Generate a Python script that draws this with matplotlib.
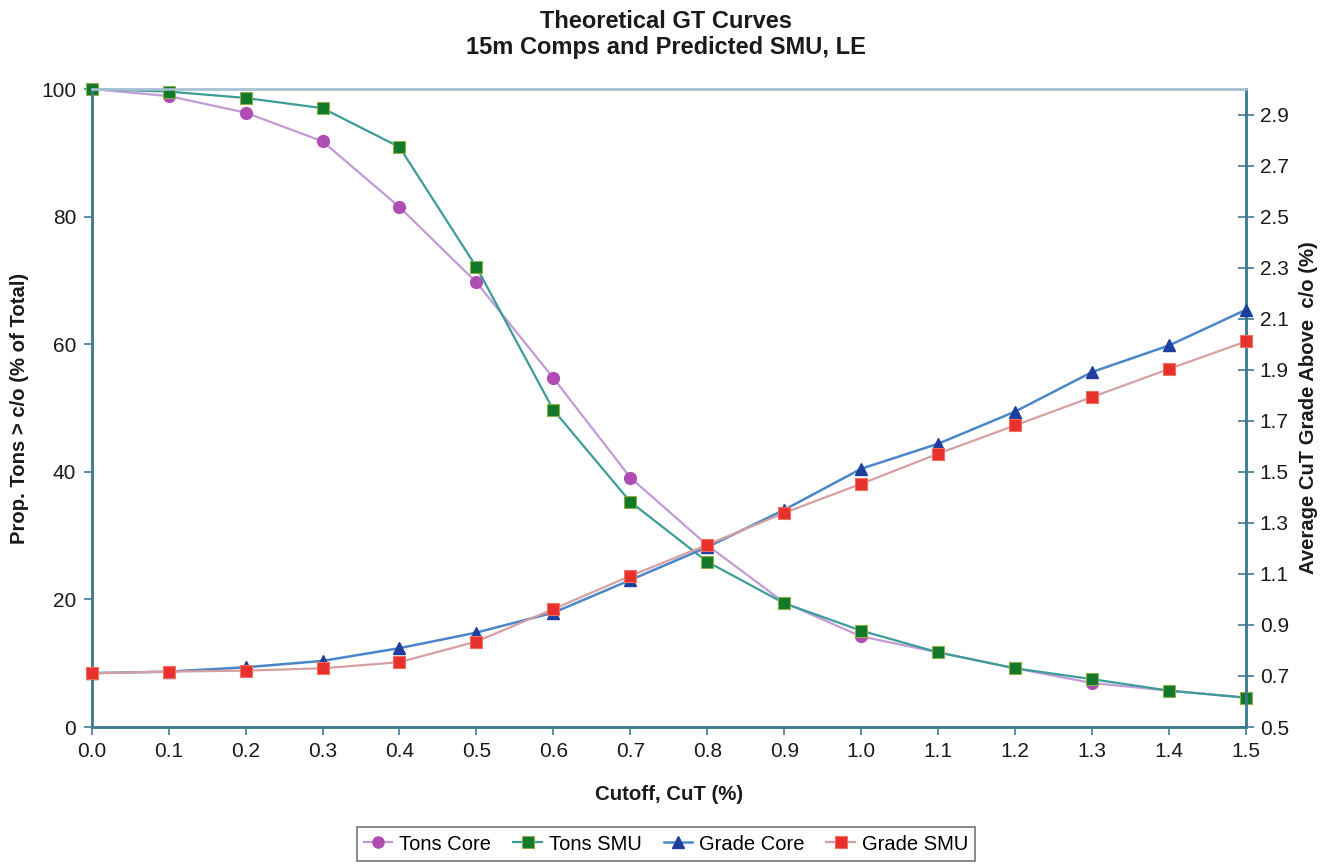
import matplotlib
matplotlib.use("Agg")
import matplotlib.pyplot as plt
from matplotlib.lines import Line2D

plt.rcParams['font.family'] = ['Liberation Sans', 'DejaVu Sans']

cutoff = [0.0, 0.1, 0.2, 0.3, 0.4, 0.5, 0.6, 0.7, 0.8, 0.9, 1.0, 1.1, 1.2, 1.3, 1.4, 1.5]

tons_core = [100.0, 98.9, 96.3, 91.8, 81.5, 69.7, 54.7, 39.1, 28.5, 19.5, 14.2, 11.7, 9.2, 6.9, 5.7, 4.6]
tons_smu = [100.0, 99.6, 98.6, 97.0, 90.9, 72.1, 49.7, 35.3, 25.9, 19.4, 15.1, 11.7, 9.2, 7.5, 5.7, 4.6]

grade_core = [0.711, 0.717, 0.734, 0.759, 0.809, 0.870, 0.948, 1.076, 1.205, 1.351, 1.512, 1.610, 1.736, 1.891, 1.995, 2.135]
grade_smu = [0.711, 0.717, 0.721, 0.730, 0.754, 0.835, 0.962, 1.092, 1.214, 1.339, 1.453, 1.571, 1.682, 1.793, 1.903, 2.011]

x_ticks = [0.0, 0.1, 0.2, 0.3, 0.4, 0.5, 0.6, 0.7, 0.8, 0.9, 1.0, 1.1, 1.2, 1.3, 1.4, 1.5]
left_ticks = [0, 20, 40, 60, 80, 100]
right_ticks = [0.5, 0.7, 0.9, 1.1, 1.3, 1.5, 1.7, 1.9, 2.1, 2.3, 2.5, 2.7, 2.9]

spine_dark = '#3f7a92'
spine_light = '#a9c3d4'
text_col = '#1a1a1a'

styles = {
    'Tons Core': dict(color='#c39ad8', lw=1.6, marker='o', mfc='#b04db4', mec='#b04db4'),
    'Tons SMU': dict(color='#3c9c98', lw=1.6, marker='s', mfc='#12782a', mec='#8fae4a', mew=0.8),
    'Grade Core': dict(color='#4a86c8', lw=1.8, marker='^', mfc='#1f3f9e', mec='#1f3f9e'),
    'Grade SMU': dict(color='#d7a0a0', lw=1.6, marker='s', mfc='#e8302c', mec='#f07060', mew=0.8),
}

fig = plt.figure(figsize=(13.32, 8.66), dpi=100)
ax = fig.add_axes([0.0688, 0.1605, 0.8666, 0.7367])
ax2 = ax.twinx()

# tonnage curves on the left axis
ax.plot(cutoff, tons_core, ms=8.5, clip_on=False, zorder=3, **styles['Tons Core'])
ax.plot(cutoff, tons_smu, ms=8.5, clip_on=False, zorder=4, **styles['Tons SMU'])

# grade curves on the right axis
ax2.plot(cutoff, grade_core, ms=9, clip_on=False, zorder=3, **styles['Grade Core'])
ax2.plot(cutoff, grade_smu, ms=8.5, clip_on=False, zorder=4, **styles['Grade SMU'])

ax.set_xlim(0, 1.5)
ax.set_ylim(0, 100)
ax2.set_ylim(0.5, 3.0)

ax.set_xticks(x_ticks)
ax.set_xticklabels([f'{v:.1f}' for v in x_ticks])
ax.set_yticks(left_ticks)
ax2.set_yticks(right_ticks)
ax2.set_yticklabels([f'{v:.1f}' for v in right_ticks])

for a in (ax, ax2):
    for s in ('left', 'right', 'bottom'):
        a.spines[s].set_color(spine_dark)
        a.spines[s].set_linewidth(1.8)
    a.spines['top'].set_color(spine_light)
    a.spines['top'].set_linewidth(1.8)

ax.tick_params(axis='x', direction='out', length=6, width=1.2, color=spine_dark,
               labelsize=15, labelcolor=text_col, pad=5)
ax.tick_params(axis='y', direction='out', length=6, width=1.2, color=spine_dark,
               labelsize=15, labelcolor=text_col, pad=5)
ax2.tick_params(axis='y', direction='inout', length=12, width=1.2, color=spine_dark,
                labelsize=15, labelcolor=text_col, pad=4)

ax.set_xlabel('Cutoff, CuT (%)', fontsize=14.7, fontweight='bold', color=text_col, labelpad=17)
ax.set_ylabel('Prop. Tons > c/o (% of Total)', fontsize=14.6, fontweight='bold',
              color=text_col, labelpad=9)
ax2.set_ylabel('Average CuT Grade Above  c/o (%)', fontsize=14.6, fontweight='bold',
               color=text_col, labelpad=7)

fig.text(0.5, 0.988, 'Theoretical GT Curves\n15m Comps and Predicted SMU, LE',
         ha='center', va='top', fontsize=17, fontweight='bold', color=text_col,
         linespacing=1.15)

handles = [Line2D([], [], ms=8, **styles[k]) for k in styles]
labels = list(styles)
leg = fig.legend(handles, labels, loc='center', bbox_to_anchor=(0.5, 0.0254),
                 ncol=4, fontsize=14.5, frameon=True, fancybox=False,
                 handlelength=1.4, columnspacing=1.1, handletextpad=0.35,
                 borderpad=0.35)
leg.get_frame().set_edgecolor('#555555')
leg.get_frame().set_linewidth(1.2)

fig.savefig('out.png', dpi=100)
